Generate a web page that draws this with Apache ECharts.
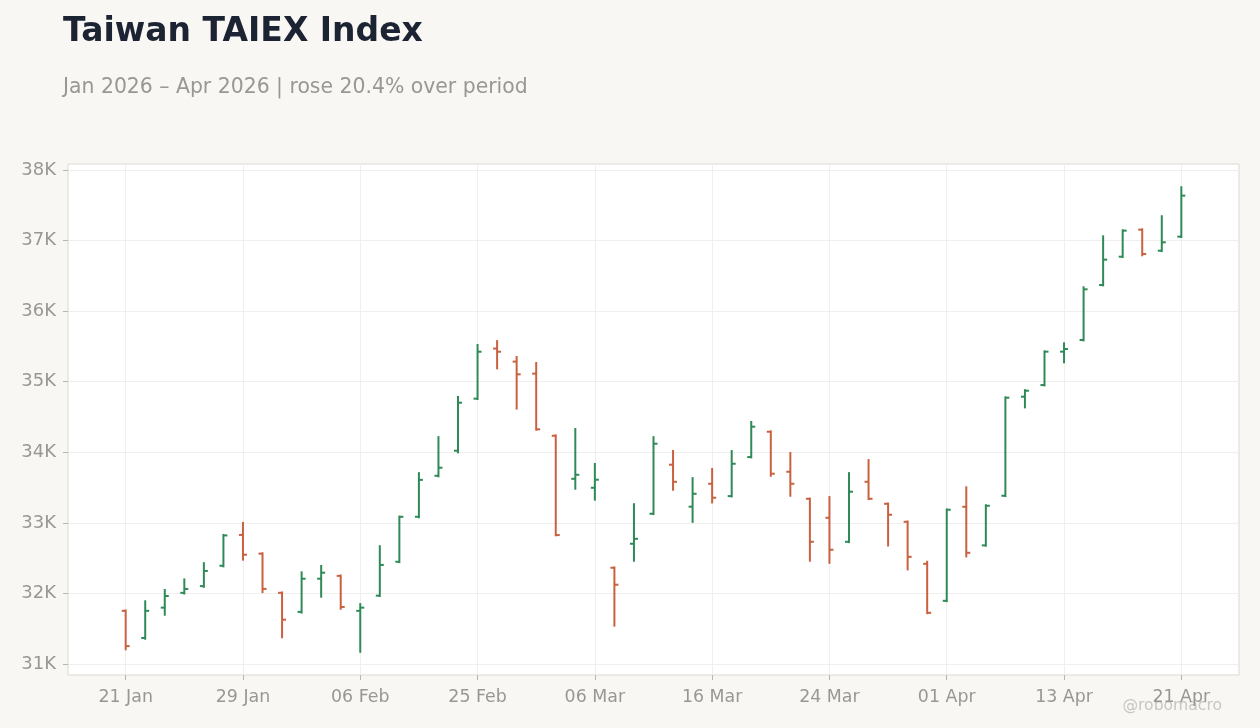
<!DOCTYPE html>
<html>
<head>
<meta charset="utf-8">
<script src="https://cdn.jsdelivr.net/npm/echarts@6/dist/echarts.min.js"></script>
<style>
  html, body { margin: 0; padding: 0; background: #f8f7f4; }
  #main { width: 1260px; height: 728px; }
</style>
</head>
<body>
<div id="main"></div>
<script>
// trading days (category index -> label)
const dates = [
  '21 Jan', '22 Jan', '23 Jan', '26 Jan', '27 Jan', '28 Jan', '29 Jan', '30 Jan',
  '02 Feb', '03 Feb', '04 Feb', '05 Feb', '06 Feb', '09 Feb', '10 Feb', '11 Feb',
  '23 Feb', '24 Feb', '25 Feb', '26 Feb', '02 Mar', '03 Mar', '04 Mar', '05 Mar',
  '06 Mar', '09 Mar', '10 Mar', '11 Mar', '12 Mar', '13 Mar', '16 Mar', '17 Mar',
  '18 Mar', '19 Mar', '20 Mar', '23 Mar', '24 Mar', '25 Mar', '26 Mar', '27 Mar',
  '30 Mar', '31 Mar', '01 Apr', '02 Apr', '07 Apr', '08 Apr', '09 Apr', '10 Apr',
  '13 Apr', '14 Apr', '15 Apr', '16 Apr', '17 Apr', '20 Apr', '21 Apr'
]
const opens = [
  31755, 31370, 31800, 32010, 32105, 32393, 32830, 32565, 32010, 31740, 32210,
  32250, 31755, 31970, 32450, 33087, 33668, 34023, 34760, 35470, 35285, 35115,
  34235, 33625, 33498, 32365, 32705, 33130, 33825, 33230, 33555, 33380, 33933,
  34292, 33725, 33342, 33073, 32733, 33583, 33271, 33016, 32421, 31897, 33229,
  32682, 33385, 34788, 34953, 35426, 35591, 36370, 36771, 37154, 36856, 37055
]
const highs = [
  31760, 31890, 32050, 32200, 32430, 32830, 33000, 32570, 32015, 32300, 32390,
  32255, 31850, 32670, 33090, 33705, 34215, 34785, 35520, 35575, 35350, 35265,
  34240, 34330, 33835, 32370, 33265, 34215, 34020, 33635, 33765, 34018, 34430,
  34297, 33990, 33345, 33366, 33705, 33890, 33275, 33020, 32450, 33190, 33504,
  33250, 34778, 34880, 35430, 35545, 36338, 37060, 37145, 37158, 37344, 37755
]
const lows = [
  31210, 31360, 31700, 32000, 32095, 32385, 32480, 32020, 31380, 31730, 31955,
  31785, 31175, 31965, 32445, 33080, 33660, 34000, 34755, 35190, 34620, 34320,
  32825, 33485, 33330, 31545, 32465, 33125, 33470, 33015, 33290, 33375, 33928,
  33668, 33385, 32465, 32435, 32728, 33338, 32680, 32342, 31722, 31892, 32526,
  32677, 33380, 34637, 34948, 35275, 35586, 36365, 36766, 36791, 36850, 37050
]
const closes = [
  31255, 31755, 31965, 32065, 32320, 32823, 32550, 32065, 31630, 32210, 32295,
  31810, 31800, 32405, 33087, 33610, 33782, 34703, 35425, 35425, 35105, 34326,
  32828, 33682, 33612, 32125, 32775, 34122, 33583, 33413, 33357, 33838, 34363,
  33697, 33555, 32733, 32620, 33442, 33342, 33116, 32520, 31727, 33187, 32577,
  33243, 34774, 34873, 35426, 35464, 36309, 36729, 37140, 36810, 36975, 37636
]
const yTicks = [31000, 32000, 33000, 34000, 35000, 36000, 37000, 38000]
const xTicks = [0, 6, 12, 18, 24, 30, 36, 42, 48, 54]

const upColor = '#2e8a57'
const downColor = '#c9603f'

const chartDom = document.getElementById('main')
const myChart = echarts.init(chartDom, null, { renderer: 'canvas' })

const ohlc = dates.map((d, i) => [i, opens[i], closes[i], lows[i], highs[i]])
const lo = Math.min(...lows)
const hi = Math.max(...highs)
const pad = (hi - lo) * 0.05

const renderItem = (params, api) => {
  const x = api.value(0)
  const o = api.coord([x, api.value(1)])
  const c = api.coord([x, api.value(2)])
  const l = api.coord([x, api.value(3)])
  const h = api.coord([x, api.value(4)])
  const color = api.value(2) >= api.value(1) ? upColor : downColor
  const style = { stroke: color, lineWidth: 2 }
  return {
    type: 'group',
    children: [
      { type: 'line', shape: { x1: h[0], y1: h[1] - 1, x2: l[0], y2: l[1] + 1 }, style },
      { type: 'line', shape: { x1: o[0] - 4, y1: o[1], x2: o[0], y2: o[1] }, style },
      { type: 'line', shape: { x1: c[0], y1: c[1], x2: c[0] + 4, y2: c[1] }, style }
    ]
  }
}

const option = {
  backgroundColor: '#f8f7f4',
  animation: false,
  title: [
    {
      text: 'Taiwan TAIEX Index',
      left: 58,
      top: 11,
      textStyle: { fontFamily: 'DejaVu Sans', fontSize: 33, fontWeight: 'bold', color: '#1c2434' }
    },
    {
      text: 'Jan 2026 – Apr 2026 | rose 20.4% over period',
      left: 58,
      top: 73,
      textStyle: { fontFamily: 'DejaVu Sans', fontSize: 20.4, fontWeight: 'normal', color: '#9a9793' }
    }
  ],
  graphic: [
    {
      type: 'text',
      right: 38,
      bottom: 14,
      style: { text: '@robomacro', fontFamily: 'DejaVu Sans', fontSize: 15.6, fill: '#c8c6c2' }
    }
  ],
  grid: {
    left: 68, right: 21, top: 164, bottom: 53,
    show: true, backgroundColor: '#ffffff', borderColor: '#ddd9d3', borderWidth: 1
  },
  xAxis: {
    type: 'value',
    min: -2.95,
    max: 56.95,
    axisLine: { show: false, onZero: false },
    axisTick: { show: true, length: 5, lineStyle: { color: '#b8b5b0' }, customValues: xTicks },
    axisLabel: {
      customValues: xTicks,
      formatter: v => dates[Math.round(v)] || '',
      color: '#9a9793', fontSize: 17.4, fontFamily: 'DejaVu Sans', margin: 14
    },
    splitLine: { show: true, lineStyle: { color: '#f0efed', width: 1 } }
  },
  yAxis: {
    type: 'value',
    min: lo - pad,
    max: hi + pad,
    axisLine: { show: false, onZero: false },
    axisTick: { show: true, length: 5, lineStyle: { color: '#b8b5b0' }, customValues: yTicks },
    axisLabel: {
      customValues: yTicks,
      formatter: v => (v / 1000) + 'K',
      color: '#9a9793', fontSize: 18, fontFamily: 'DejaVu Sans', margin: 12
    },
    splitLine: { show: true, lineStyle: { color: '#f0efed', width: 1 } }
  },
  series: [
    {
      type: 'custom',
      renderItem,
      encode: { x: 0, y: [1, 2, 3, 4] },
      data: ohlc
    }
  ]
}
option && myChart.setOption(option)
</script>
</body>
</html>
